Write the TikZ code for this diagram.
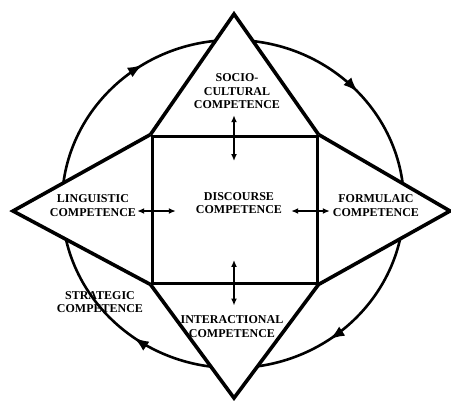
\documentclass[tikz,border=0pt]{standalone}
\usepackage{fontspec}
\setmainfont{Liberation Serif}
\usetikzlibrary{arrows.meta, calc, decorations.markings}

\begin{document}
\begin{tikzpicture}[x=1pt, y=-1pt,
    comp/.style={font=\bfseries\fontsize{12}{13.5}\selectfont, align=center, inner sep=1pt},
    box/.style={draw, line width=3pt, minimum width=165pt, minimum height=147pt, inner sep=0pt},
    wing/.style={line width=3.6pt, line join=miter},
    link/.style={{Latex[length=7pt,width=6pt]}-{Latex[length=7pt,width=6pt]}, line width=1.7pt},
    ring/.style={line width=2.6pt, postaction={decorate}, decoration={markings,
        mark=at position 0.153 with {\arrow{Latex[length=15pt,width=11pt]}},
        mark=at position 0.35 with {\arrow{Latex[length=15pt,width=11pt]}},
        mark=at position 0.66 with {\arrow{Latex[length=15pt,width=11pt]}},
        mark=at position 0.882 with {\arrow{Latex[length=15pt,width=11pt]}}}}
]
\useasboundingbox (0,0) rectangle (451,400);

% Outer cycle
\draw[ring] (233,204) ellipse [x radius=171, y radius=164];

% Centre square and the four wings
\node[box, fill=white] (discoursebox) at (234.5,209.5) {};
\coordinate (apexN) at (234,14);
\coordinate (apexS) at (234,398);
\coordinate (apexW) at (13,211);
\coordinate (apexE) at (450,211);

\fill[white] (discoursebox.north west) -- (apexN) -- (discoursebox.north east) -- (apexE)
    -- (discoursebox.south east) -- (apexS) -- (discoursebox.south west) -- (apexW) -- cycle;
\draw[wing] (discoursebox.north west) -- (apexN) -- (discoursebox.north east);
\draw[wing] (discoursebox.north east) -- (apexE) -- (discoursebox.south east);
\draw[wing] (discoursebox.south east) -- (apexS) -- (discoursebox.south west);
\draw[wing] (discoursebox.south west) -- (apexW) -- (discoursebox.north west);
\node[box] at (discoursebox) {};

% Competences
\node[comp] (socio) at (237,91.5) {SOCIO-\\CULTURAL\\COMPETENCE};
\node[comp] (linguistic) at (93,205.5) {LINGUISTIC\\COMPETENCE};
\node[comp] (discourse) at (239,203) {DISCOURSE\\COMPETENCE};
\node[comp] (formulaic) at (376,205.5) {FORMULAIC\\COMPETENCE};
\node[comp] (strategic) at (100,302) {STRATEGIC\\COMPETENCE};
\node[comp] (interactional) at (232,326.5) {INTERACTIONAL\\COMPETENCE};

% Links to discourse
\draw[link, shorten <=30pt, shorten >=5pt] (discourse.north -| apexN) -- (socio.south -| apexN);
\draw[link, shorten <=45pt, shorten >=9pt] (discourse.south -| apexS) -- (interactional.north -| apexS);
\draw[link, shorten >=19pt] (linguistic.east |- apexW) -- (discourse.west |- apexW);
\draw[link, shorten <=8pt, shorten >=2pt] (discourse.east |- apexE) -- (formulaic.west |- apexE);

\end{tikzpicture}
\end{document}
